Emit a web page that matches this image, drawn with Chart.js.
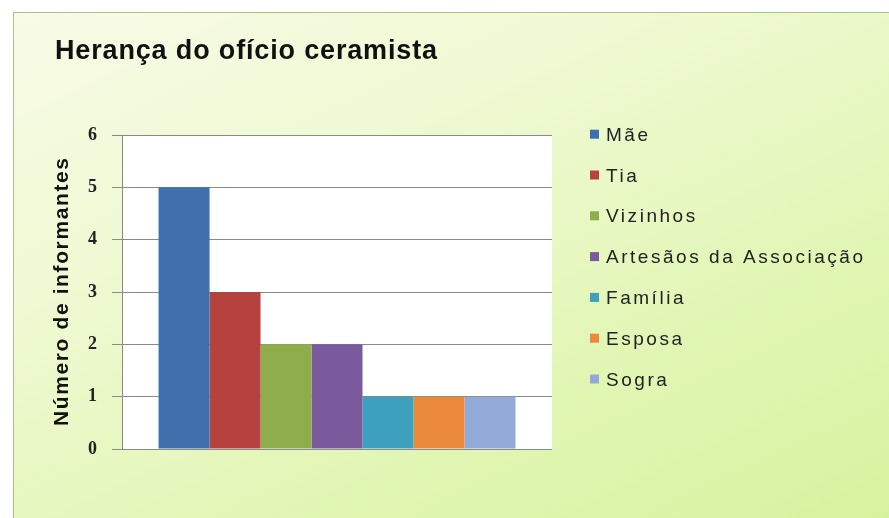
<!DOCTYPE html>
<html>
<head>
<meta charset="utf-8">
<script src="https://cdn.jsdelivr.net/npm/chart.js@4/dist/chart.umd.min.js"></script>
<style>
  html, body { margin: 0; padding: 0; background: #ffffff; overflow: hidden; }
  #frame {
    position: absolute; left: 13px; top: 12px; width: 900px; height: 520px;
    border: 1px solid #aebf88;
    background: linear-gradient(155deg, #f8fbe7 0%, #eef9d0 35%, #e0f6b2 70%, #d6f19d 100%);
  }
  #chart { position: absolute; left: 0; top: 0; }
</style>
</head>
<body>
<div id="frame"></div>
<canvas id="chart" width="889" height="518"></canvas>
<script>
const chartTitle = 'Herança do ofício ceramista';
const yAxisTitle = 'Número de informantes';
const categories = ['Mãe', 'Tia', 'Vizinhos', 'Artesãos da Associação', 'Família', 'Esposa', 'Sogra'];
const counts = [5, 3, 2, 2, 1, 1, 1];
const barColors = ['#3F6FAD', '#B5423F', '#8DAE4B', '#7A5A9C', '#3DA0BC', '#EC8A3C', '#93A9D8'];
const yTicks = [0, 1, 2, 3, 4, 5, 6];

// draws text with extra letter spacing so it spans a given width
function spacedText(ctx, text, x, y, width) {
  ctx.letterSpacing = '0px';
  const w = ctx.measureText(text).width;
  const sp = width ? (width - w) / (text.length - 1) : 0;
  ctx.letterSpacing = sp + 'px';
  ctx.fillText(text, x, y);
  ctx.letterSpacing = '0px';
}

const plotBackground = {
  id: 'plotBackground',
  beforeDraw(chart) {
    const { ctx, chartArea: a } = chart;
    ctx.save();
    ctx.fillStyle = '#ffffff';
    ctx.fillRect(a.left, a.top, a.right - a.left, a.bottom - a.top);
    ctx.restore();
  }
};

const textBits = {
  id: 'textBits',
  afterDraw(chart) {
    const { ctx, chartArea: a } = chart;
    ctx.save();
    ctx.fillStyle = '#111111';
    ctx.textAlign = 'left';
    ctx.textBaseline = 'alphabetic';

    ctx.font = 'bold 27px "Liberation Sans", Arial, sans-serif';
    spacedText(ctx, chartTitle, 55, 59, 382);

    ctx.save();
    ctx.translate(68, (a.top + a.bottom) / 2);
    ctx.rotate(-Math.PI / 2);
    ctx.font = 'bold 21px "Liberation Sans", Arial, sans-serif';
    spacedText(ctx, yAxisTitle, -134, 0, 268);
    ctx.restore();

    // legend
    ctx.font = '19px "Liberation Sans", Arial, sans-serif';
    ctx.letterSpacing = '0px';
    const longest = 'Artesãos da Associação';
    const base = ctx.measureText(longest).width;
    const sp = (257 - base) / (longest.length - 1);
    chart.data.datasets.forEach((ds, i) => {
      const by = 140.7 + i * 40.8;
      ctx.fillStyle = ds.backgroundColor;
      ctx.fillRect(590, by - 11, 9, 9);
      ctx.fillStyle = '#222222';
      ctx.letterSpacing = sp + 'px';
      ctx.fillText(ds.label, 606, by);
      ctx.letterSpacing = '0px';
    });
    ctx.restore();
  }
};

const ctx = document.getElementById('chart').getContext('2d');
new Chart(ctx, {
  type: 'bar',
  data: {
    labels: [''],
    datasets: categories.map((name, i) => ({
      label: name,
      data: [counts[i]],
      backgroundColor: barColors[i],
      borderWidth: 0,
      barPercentage: 1,
      categoryPercentage: 0.83
    }))
  },
  options: {
    responsive: false,
    animation: false,
    layout: { padding: { left: 0, top: 135, right: 337, bottom: 69 } },
    plugins: {
      legend: { display: false },
      title: { display: false },
      tooltip: { enabled: false }
    },
    scales: {
      x: {
        grid: { display: false },
        border: { display: false },
        ticks: { display: false },
        afterFit(scale) { scale.height = 0; }
      },
      y: {
        min: 0,
        max: 6,
        afterBuildTicks(scale) { scale.ticks = yTicks.map(v => ({ value: v })); },
        grid: { color: '#8a8a8a', lineWidth: 1, tickLength: 10 },
        border: { color: '#8a8a8a' },
        ticks: {
          padding: 15,
          color: '#222222',
          font: { family: '"Liberation Serif", "Times New Roman", serif', size: 18, weight: 'bold' }
        },
        afterFit(scale) { scale.width = 122; }
      }
    }
  },
  plugins: [plotBackground, textBits]
});
</script>
</body>
</html>
